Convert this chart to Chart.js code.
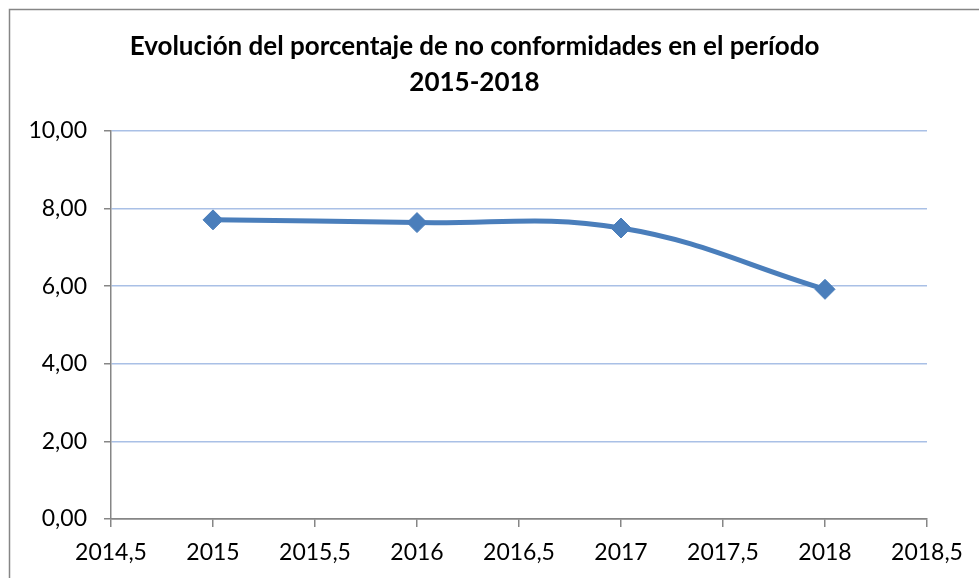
<!DOCTYPE html>
<html><head><meta charset="utf-8">
<script src="https://cdn.jsdelivr.net/npm/chart.js@4/dist/chart.umd.min.js"></script>
<style>html,body{margin:0;padding:0;background:#fff;}#wrap{width:979px;height:578px;position:relative;}</style>
</head><body><div id="wrap"><canvas id="c" width="979" height="578"></canvas></div>
<script>
const years = [2015, 2016, 2017, 2018];
const percentages = [7.71, 7.64, 7.50, 5.92];
const titleLines = ["Evolución del porcentaje de no conformidades en el período", "2015-2018"];
const xRange = [2014.5, 2018.5];
const yRange = [0, 10];

const gray = '#868686';
const borderPlugin = {
  id: 'outerBorder',
  beforeDraw(chart) {
    const ctx = chart.ctx;
    ctx.save();
    ctx.strokeStyle = gray; ctx.lineWidth = 1.5;
    ctx.beginPath();
    ctx.moveTo(9.5, 600); ctx.lineTo(9.5, 9.5); ctx.lineTo(1000, 9.5);
    ctx.stroke();
    ctx.restore();
  }
};
const fmt = v => String(v).replace('.', ',');

new Chart(document.getElementById('c'), {
  type: 'scatter',
  data: { datasets: [{
    data: years.map((y, i) => ({x: y, y: percentages[i]})),
    showLine: true, tension: 0.4,
    borderColor: '#4A7EBB', borderWidth: 5,
    pointStyle: 'rectRot', pointRadius: 10, pointHoverRadius: 10,
    pointBackgroundColor: '#4A7EBB', pointBorderColor: '#4A7EBB', pointBorderWidth: 1
  }]},
  options: {
    responsive: false, animation: false, devicePixelRatio: 1,
    layout: { padding: { left: 22, right: 52, top: 0, bottom: 0 } },
    plugins: {
      legend: { display: false }, tooltip: { enabled: false },
      title: { display: true, text: titleLines, color: '#000',
        font: { family: 'Lato', size: 26, weight: 'bold', lineHeight: 1.385 },
        padding: { top: 29, bottom: 30 } }
    },
    scales: {
      x: { type: 'linear', min: xRange[0], max: xRange[1],
        afterFit: s => { s.height = 59; },
        grid: { drawOnChartArea: false, color: gray, tickLength: 8, lineWidth: 1.5 },
        border: { color: gray, width: 1.5 },
        ticks: { stepSize: 0.5, color: '#000', padding: 12, font: { family: 'Lato', size: 23 }, callback: v => fmt(v) } },
      y: { min: yRange[0], max: yRange[1],
        afterFit: s => { s.width = 89; },
        grid: { color: c => c.tick && c.tick.value === 0 ? gray : '#A9C0E6', lineWidth: 1.5, tickColor: gray, tickLength: 7 },
        border: { color: gray, width: 1.5 },
        ticks: { stepSize: 2, color: '#000', padding: 17, font: { family: 'Lato', size: 23 }, callback: v => v.toFixed(2).replace('.', ',') } }
    }
  },
  plugins: [borderPlugin]
});
</script></body></html>
